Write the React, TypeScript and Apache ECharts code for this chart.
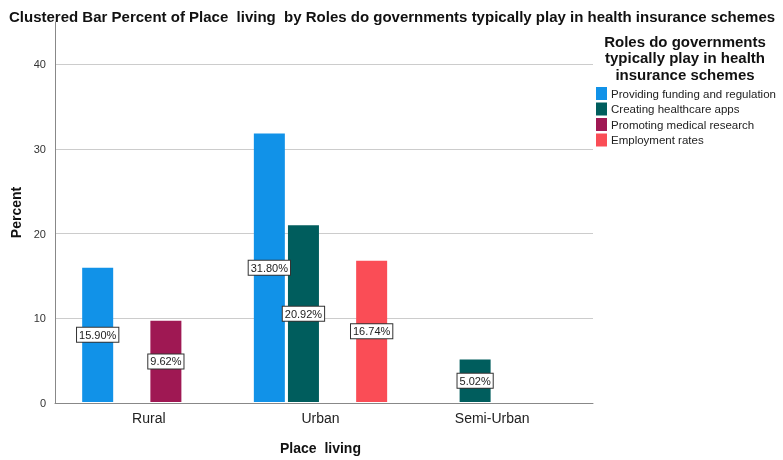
import React, { useEffect, useRef } from "react";
import * as echarts from "echarts";

const categories = ["Rural", "Urban", "Semi-Urban"];
const seriesNames = [
  "Providing funding and regulation",
  "Creating healthcare apps",
  "Promoting medical research",
  "Employment rates",
];
const fundingValues = [15.9, 31.8, null];
const appsValues = [null, 20.92, 5.02];
const researchValues = [9.62, null, null];
const employmentValues = [null, 16.74, null];
const colors = ["#1192e8", "#005d5d", "#9f1853", "#fa4d56"];
const yTicks = [0, 10, 20, 30, 40];

const FONT = "Liberation Sans, Arial, sans-serif";

export default function App() {
  const ref = useRef<HTMLDivElement>(null);
  useEffect(() => {
    if (!ref.current) return;
    const chart = echarts.init(ref.current, null, { renderer: "svg" });
    const allValues = [fundingValues, appsValues, researchValues, employmentValues];
    const label = {
      show: true,
      position: "inside",
      formatter: (p: any) => Number(p.value).toFixed(2) + "%",
      fontSize: 11,
      fontFamily: FONT,
      color: "#222",
      backgroundColor: "#fff",
      borderColor: "#333",
      borderWidth: 1,
      padding: [2, 2, 1, 2],
    };
    chart.setOption({
      animation: false,
      textStyle: { fontFamily: FONT },
      title: [
        {
          text: "Clustered Bar Percent of Place  living  by Roles do governments typically play in health insurance schemes",
          left: 4,
          top: 4,
          textStyle: { fontSize: 15, fontWeight: "bold", color: "#111", fontFamily: FONT },
        },
        {
          text: "Roles do governments\ntypically play in health\ninsurance schemes",
          left: 680,
          top: 28,
          textAlign: "center",
          textStyle: { fontSize: 15, fontWeight: "bold", color: "#111", lineHeight: 16.5, fontFamily: FONT },
        },
      ],
      legend: {
        orient: "vertical",
        left: 591,
        top: 82,
        itemWidth: 11,
        itemHeight: 13,
        itemGap: 2.5,
        icon: "rect",
        data: seriesNames,
        textStyle: { fontSize: 11.5, color: "#222", fontFamily: FONT, padding: [0, 0, 0, -1] },
      },
      grid: [
        { left: 63, right: 205, top: 22, bottom: 57 },
        { left: 55, right: 190, top: 22, bottom: 57 },
      ],
      xAxis: [
        {
          type: "category",
          gridIndex: 0,
          data: categories,
          axisLine: { show: false },
          axisTick: { show: false },
          axisLabel: { fontSize: 14, color: "#222", margin: 9, fontFamily: FONT },
          name: "Place  living",
          nameLocation: "middle",
          nameGap: 39,
          nameTextStyle: { fontSize: 14, fontWeight: "bold", color: "#111", fontFamily: FONT },
        },
        {
          type: "value",
          gridIndex: 1,
          min: 0,
          max: 1,
          axisLine: { show: true, lineStyle: { color: "#888" } },
          axisTick: { show: false },
          axisLabel: { show: false },
          splitLine: { show: false },
        },
      ],
      yAxis: [
        { type: "value", gridIndex: 0, min: 0, max: 45, show: false },
        {
          type: "value",
          gridIndex: 1,
          min: 0,
          max: 45,
          interval: 10,
          axisLine: { show: true, lineStyle: { color: "#888" } },
          axisTick: { show: false },
          axisLabel: {
            fontSize: 11,
            color: "#333",
            margin: 9,
            fontFamily: FONT,
            formatter: (v: number) => (yTicks.includes(v) ? String(v) : ""),
          },
          splitLine: { show: true, showMaxLine: false, lineStyle: { color: "#cccccc" } },
          name: "Percent",
          nameLocation: "middle",
          nameGap: 27,
          nameTextStyle: { fontSize: 14, fontWeight: "bold", color: "#111", fontFamily: FONT },
        },
      ],
      series: seriesNames.map((name, i) => ({
        name,
        type: "bar",
        xAxisIndex: 0,
        yAxisIndex: 0,
        barWidth: 31,
        barGap: "10%",
        itemStyle: { color: colors[i] },
        label,
        data: allValues[i].map((v) => (v === null ? "-" : v)),
      })),
    });
    return () => chart.dispose();
  }, []);
  return (
    <div
      ref={ref}
      style={{ position: "fixed", left: 0, top: 0, width: 783, height: 460 }}
    />
  );
}
